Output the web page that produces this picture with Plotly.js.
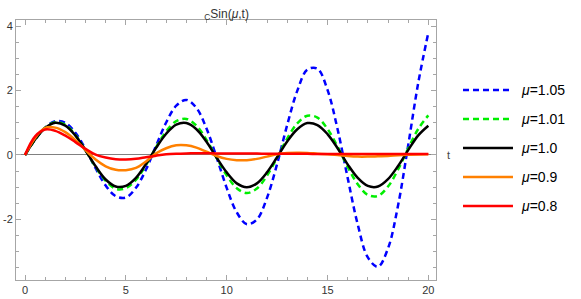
<!DOCTYPE html>
<html>
<head>
<meta charset="utf-8">
<script src="https://cdn.plot.ly/plotly-3.0.1.min.js"></script>
<style>html,body{margin:0;padding:0;background:#fff;}#chart{width:581px;height:299px;}</style>
</head>
<body>
<div id="chart"></div>
<script>
// sample times
var t = [0,0.5,1,1.5,2,2.5,3,3.5,4,4.5,5,5.5,6,6.5,7,7.5,8,8.5,9,9.5,10,10.5,11,11.5,12,12.5,13,13.5,14,14.5,15,15.5,16,16.5,17,17.5,18,18.5,19,19.5,20];

var muLabels = ["1.05","1.01","1.0","0.9","0.8"];

var mu105 = [0,0.48,0.85,1.05,1.00,0.69,0.18,-0.41,-0.95,-1.28,-1.32,-1.02,-0.45,0.29,1.01,1.53,1.71,1.46,0.82,-0.07,-1.02,-1.78,-2.15,-2.00,-1.33,-0.28,0.93,1.99,2.65,2.68,2.02,0.80,-0.71,-2.16,-3.18,-3.47,-2.90,-1.56,0.30,2.24,3.80];
var mu101 = [0,0.48,0.85,1.02,0.94,0.62,0.15,-0.37,-0.80,-1.05,-1.03,-0.77,-0.31,0.24,0.73,1.05,1.12,0.91,0.47,-0.09,-0.63,-1.03,-1.18,-1.04,-0.64,-0.08,0.51,0.98,1.22,1.16,0.81,0.26,-0.37,-0.91,-1.24,-1.27,-0.98,-0.45,0.20,0.81,1.23];
var mu100 = [0,0.48,0.84,1.00,0.91,0.60,0.14,-0.35,-0.76,-0.98,-0.96,-0.71,-0.28,0.22,0.66,0.94,0.99,0.80,0.41,-0.08,-0.54,-0.88,-1.00,-0.88,-0.54,-0.07,0.42,0.80,0.99,0.93,0.65,0.21,-0.29,-0.71,-0.96,-0.98,-0.75,-0.34,0.15,0.61,0.91];
var mu090 = [0,0.53,0.84,0.85,0.71,0.46,0.15,-0.14,-0.35,-0.46,-0.47,-0.40,-0.20,0.05,0.21,0.30,0.30,0.23,0.10,-0.03,-0.12,-0.16,-0.16,-0.12,-0.05,0.02,0.06,0.07,0.065,0.04,0.02,0.00,-0.03,-0.05,-0.05,-0.04,-0.03,-0.01,0.005,0.015,0.02];
var mu080 = [0,0.58,0.79,0.75,0.60,0.40,0.19,0.01,-0.08,-0.13,-0.14,-0.12,-0.07,-0.02,0.02,0.04,0.05,0.055,0.055,0.05,0.05,0.048,0.045,0.043,0.04,0.04,0.038,0.036,0.035,0.034,0.033,0.032,0.032,0.031,0.031,0.03,0.03,0.03,0.03,0.03,0.03];

var xTickVals = [0,5,10,15,20];
var yTickVals = [-2,0,2,4];

var values = [mu105, mu101, mu100, mu090, mu080];
var colors = ["#0000ff","#00ee00","#000000","#ff8000","#ff0000"];
var dashes = ["6px,4px","6px,4px","solid","solid","solid"];
var FONT = "Liberation Sans, Arial, sans-serif";

var traces = values.map(function(v, i){
  return {
    x: t, y: v, type: "scatter", mode: "lines",
    name: "μ=" + muLabels[i],
    line: {color: colors[i], width: 2.5, dash: dashes[i], shape: "spline", smoothing: 1},
    hoverinfo: "skip", showlegend: false
  };
});

// custom legend (longer line samples, like the reference)
var legendRowY = [0.7308, 0.6192, 0.5077, 0.3962, 0.2846];
var shapes = [];
var annotations = [];
muLabels.forEach(function(m, i){
  shapes.push({type: "line", xref: "paper", yref: "paper", x0: 1.0643, x1: 1.1833,
    y0: legendRowY[i], y1: legendRowY[i], line: {color: colors[i], width: 2.5, dash: dashes[i]}});
  annotations.push({text: "<i>μ</i>=" + m, xref: "paper", yref: "paper", x: 1.197, y: legendRowY[i],
    xanchor: "left", yanchor: "middle", showarrow: false, font: {family: FONT, size: 14, color: "#000"}});
});
annotations.push({
  text: "t", xref: "paper", yref: "y", x: 1.022, y: 0, xanchor: "left", yanchor: "middle",
  showarrow: false, font: {family: FONT, size: 11, color: "#444"}
});

var axisCommon = {
  showline: true, linecolor: "#a6a6a6", linewidth: 1, mirror: "ticks",
  ticks: "inside", ticklen: 5, tickcolor: "#a6a6a6", tickwidth: 1,
  showgrid: false, tickfont: {family: FONT, size: 11, color: "#333"}
};

var layout = {
  width: 581, height: 299,
  margin: {l: 16, r: 145, t: 20, b: 19},
  paper_bgcolor: "#fff", plot_bgcolor: "#fff",
  showlegend: false,
  title: {text: "<sub>C</sub>Sin(<i>μ</i>,t)", x: 0.39, xanchor: "center", y: 0.955, yanchor: "middle",
          font: {family: FONT, size: 12, color: "#333"}},
  xaxis: Object.assign({}, axisCommon, {
    range: [-0.447, 20.38], tickvals: xTickVals, ticktext: xTickVals.map(String),
    zeroline: false,
    minor: {dtick: 1, tick0: 0, ticks: "inside", ticklen: 3, tickcolor: "#a6a6a6"}
  }),
  yaxis: Object.assign({}, axisCommon, {
    range: [-3.88, 4.19], tickvals: yTickVals, ticktext: yTickVals.map(function(v){return v<0?"-"+Math.abs(v):String(v);}),
    zeroline: true, zerolinecolor: "#808080", zerolinewidth: 1,
    minor: {dtick: 0.5, tick0: 0, ticks: "inside", ticklen: 3, tickcolor: "#a6a6a6"}
  }),
  shapes: shapes,
  annotations: annotations
};

Plotly.newPlot("chart", traces, layout, {displayModeBar: false, staticPlot: true});
</script>
</body>
</html>
